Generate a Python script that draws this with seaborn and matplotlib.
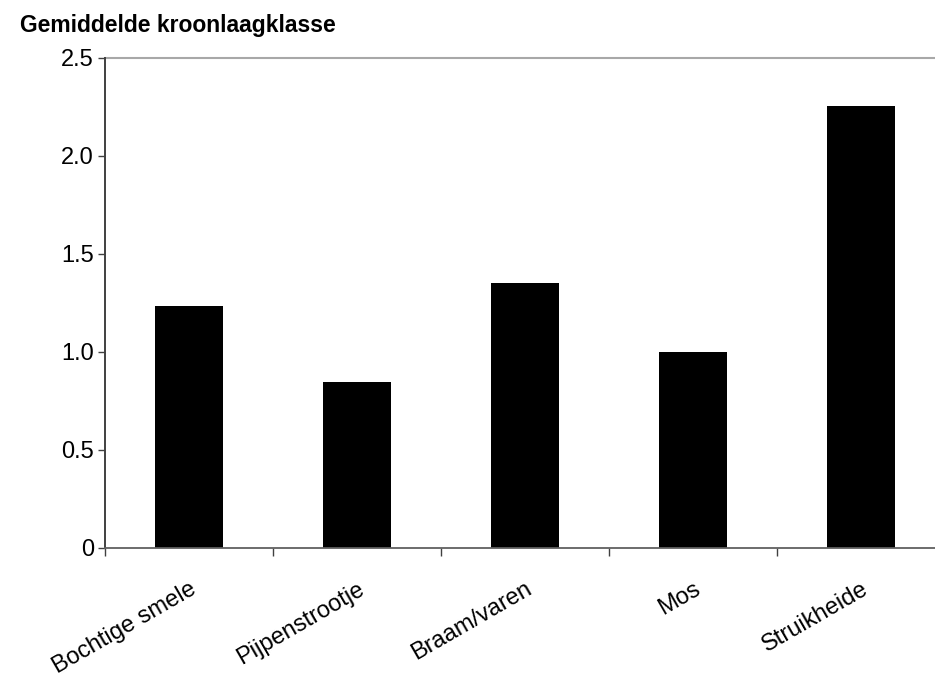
import matplotlib
matplotlib.use("Agg")
import matplotlib.pyplot as plt
import seaborn as sns
import pandas as pd
from matplotlib.ticker import FixedLocator

categories = ["Bochtige smele", "Pijpenstrootje", "Braam/varen", "Mos", "Struikheide"]
values = [1.234, 0.846, 1.349, 1.0, 2.252]
y_ticks = [0, 0.5, 1.0, 1.5, 2.0, 2.5]
y_tick_labels = ["0", "0.5", "1.0", "1.5", "2.0", "2.5"]
title = "Gemiddelde kroonlaagklasse"

sns.set_theme(style="white")
plt.rcParams["font.family"] = ["Liberation Sans", "DejaVu Sans"]
plt.rcParams["text.color"] = "black"
plt.rcParams["xtick.color"] = "black"
plt.rcParams["ytick.color"] = "black"

df = pd.DataFrame({"categorie": categories, "waarde": values})

fig = plt.figure(figsize=(9.35, 6.79), dpi=100)
ax = fig.add_axes([105 / 935, 131.5 / 679, 840 / 935, 489.8 / 679])

sns.barplot(data=df, x="categorie", y="waarde", color="black", width=0.405,
            saturation=1, edgecolor="black", linewidth=0, ax=ax)

ax.set_xlim(-0.5, len(categories) - 0.5)
ax.set_ylim(0, 2.5)
ax.set_yticks(y_ticks)
ax.set_yticklabels(y_tick_labels, fontsize=17, color="black")
ax.set_xlabel("")
ax.set_ylabel("")

# horizontal line at the top value
ax.axhline(2.5, color="#a8a8a8", linewidth=1.5, zorder=0, clip_on=False)

for side in ["top", "right"]:
    ax.spines[side].set_visible(False)
ax.spines["left"].set_color("#404040")
ax.spines["left"].set_linewidth(1.4)
ax.spines["bottom"].set_color("#606060")
ax.spines["bottom"].set_linewidth(1.3)

ax.tick_params(axis="y", which="major", direction="out", length=5, width=1,
               color="#404040", left=True, pad=3)
ax.xaxis.set_minor_locator(FixedLocator([i - 0.5 for i in range(len(categories) + 1)]))
ax.tick_params(axis="x", which="minor", direction="out", length=6, width=1,
               color="#404040", bottom=True)
ax.tick_params(axis="x", which="major", length=0, pad=22)
for lbl in ax.get_xticklabels():
    lbl.set_rotation(30)
    lbl.set_ha("right")
    lbl.set_rotation_mode("anchor")
    lbl.set_fontsize(17)
    lbl.set_color("black")

fig.text(20 / 935, 1 - 14 / 679, title, fontsize=16.5, fontweight="bold",
         ha="left", va="top", color="black")

fig.savefig("out.png", dpi=100, facecolor="white")
